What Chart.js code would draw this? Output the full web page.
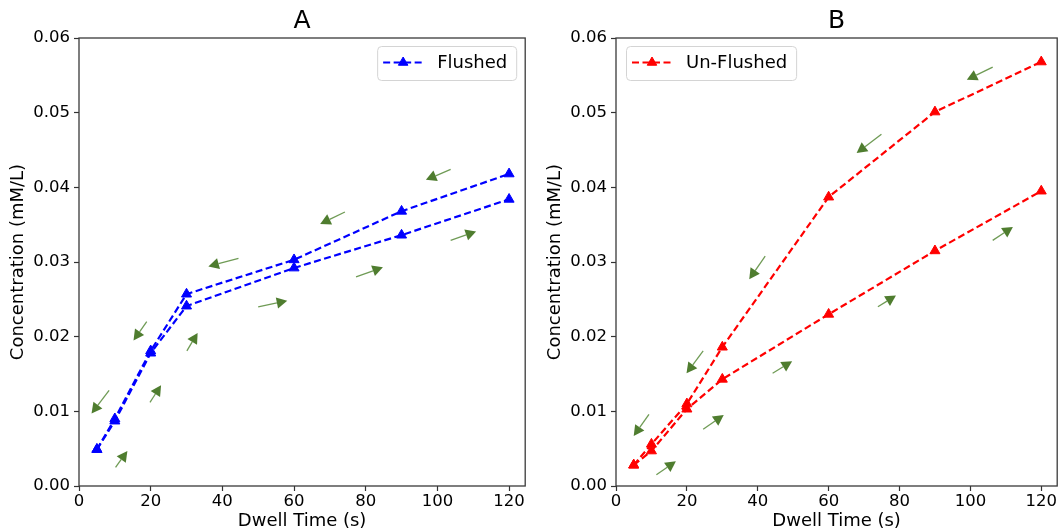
<!DOCTYPE html>
<html>
<head>
<meta charset="utf-8">
<script src="https://cdn.jsdelivr.net/npm/chart.js@4.4.1/dist/chart.umd.min.js"></script>
<style>
  html, body { margin: 0; padding: 0; background: #fff; }
  .row { display: flex; width: 1064px; height: 532px; }
  canvas { display: block; }
</style>
</head>
<body>
<div class="row">
  <canvas id="chartA" width="532" height="532"></canvas>
  <canvas id="chartB" width="532" height="532"></canvas>
</div>
<script>
// dwell times (s), sampled going up and then coming back down
const dwellTimes = [5, 10, 20, 30, 60, 90, 120];

// concentration (mM/L)
const flushedUp = [0.0049, 0.0087, 0.0178, 0.0241, 0.0292, 0.0336, 0.0384];
const flushedDown = [0.0049, 0.0090, 0.0181, 0.0257, 0.0303, 0.0368, 0.0418];
const unflushedUp = [0.0028, 0.0047, 0.0103, 0.0143, 0.0230, 0.0315, 0.0395];
const unflushedDown = [0.0028, 0.0056, 0.0110, 0.0186, 0.0387, 0.0501, 0.0568];

const yTicks = [0, 0.01, 0.02, 0.03, 0.04, 0.05, 0.06];

// direction arrows: [fromX, fromY, toX, toY] in data units
const arrowsA = [
    [8.4, 0.0128, 3.5, 0.0097],
    [10.2, 0.0025, 13.5, 0.0047],
    [18.9, 0.0220, 15.2, 0.0195],
    [19.8, 0.0112, 22.9, 0.0135],
    [30.1, 0.0181, 33.1, 0.0205],
    [44.5, 0.0305, 36.1, 0.0294],
    [50.0, 0.0240, 58.1, 0.0248],
    [74.2, 0.0367, 67.3, 0.0351],
    [77.3, 0.0280, 84.8, 0.0293],
    [103.7, 0.0424, 96.8, 0.0410],
    [103.7, 0.0329, 110.8, 0.0341]
];
const arrowsB = [
    [9.3, 0.0096, 5.0, 0.0067],
    [11.4, 0.0015, 16.9, 0.0033],
    [24.6, 0.0181, 19.9, 0.0151],
    [24.6, 0.0076, 30.4, 0.0095],
    [42.1, 0.0308, 37.6, 0.0277],
    [44.2, 0.0151, 49.7, 0.0167],
    [74.9, 0.0471, 67.9, 0.0446],
    [73.9, 0.0240, 79.0, 0.0255],
    [106.3, 0.0561, 99.0, 0.0544],
    [106.3, 0.0329, 112.0, 0.0347]
];

Chart.defaults.font.family = '"DejaVu Sans", sans-serif';
Chart.defaults.color = '#000';

const frame = {
    id: 'frame',
    afterDraw(chart) {
        const { ctx, chartArea: { left, top, width, height } } = chart;
        ctx.save();
        ctx.strokeStyle = '#3a3a3a';
        ctx.lineWidth = 1.3;
        ctx.strokeRect(left, top, width, height);
        ctx.restore();
    }
};

function arrowLayer(list) {
    return {
        id: 'arrows',
        afterDatasetsDraw(chart) {
            const { ctx, scales: { x, y } } = chart;
            ctx.save();
            ctx.strokeStyle = '#6f9b55';
            ctx.fillStyle = '#4f7d2f';
            list.forEach(([x0, y0, x1, y1]) => {
                const ax = x.getPixelForValue(x0), ay = y.getPixelForValue(y0);
                const bx = x.getPixelForValue(x1), by = y.getPixelForValue(y1);
                const ang = Math.atan2(by - ay, bx - ax);
                const hl = 10.5, hw = 5.6;
                const cx = bx - hl * Math.cos(ang), cy = by - hl * Math.sin(ang);
                ctx.lineWidth = 1.3;
                ctx.beginPath();
                ctx.moveTo(ax, ay);
                ctx.lineTo(cx, cy);
                ctx.stroke();
                ctx.beginPath();
                ctx.moveTo(bx, by);
                ctx.lineTo(cx - hw * Math.sin(ang), cy + hw * Math.cos(ang));
                ctx.lineTo(cx + hw * Math.sin(ang), cy - hw * Math.cos(ang));
                ctx.closePath();
                ctx.fill();
            });
            ctx.restore();
        }
    };
}

// matplotlib-like framed legend, one entry
function legendBox(align) {
    return {
        id: 'legendBox',
        afterDraw(chart) {
            const { ctx, chartArea } = chart;
            const ds = chart.data.datasets[0];
            ctx.save();
            ctx.font = '18px "DejaVu Sans"';
            const tw = ctx.measureText(ds.label).width;
            const w = 60 + tw + 9, h = 34;
            const bx = align === 'end' ? chartArea.right - 9 - w : chartArea.left + 10;
            const by = chartArea.top + 8;
            ctx.beginPath();
            ctx.roundRect(bx + 0.5, by + 0.5, w, h, 4);
            ctx.fillStyle = 'rgba(255,255,255,0.8)';
            ctx.fill();
            ctx.strokeStyle = '#d4d4d4';
            ctx.lineWidth = 1;
            ctx.stroke();

            const ly = by + 16.5;
            ctx.strokeStyle = ds.borderColor;
            ctx.lineWidth = ds.borderWidth;
            ctx.setLineDash(ds.borderDash);
            ctx.beginPath();
            ctx.moveTo(bx + 6, ly);
            ctx.lineTo(bx + 46, ly);
            ctx.stroke();
            ctx.setLineDash([]);
            ctx.fillStyle = ds.borderColor;
            ctx.lineWidth = 1;
            Chart.helpers.drawPoint(ctx, { pointStyle: 'triangle', radius: 5.5, borderWidth: 1, rotation: 0 }, bx + 26, ly);

            ctx.fillStyle = '#000';
            ctx.textBaseline = 'middle';
            ctx.textAlign = 'left';
            ctx.fillText(ds.label, bx + 60, by + 17.5);
            ctx.restore();
        }
    };
}

function series(label, values, color) {
    return {
        label: label,
        data: dwellTimes.map((t, i) => ({ x: t, y: values[i] })),
        showLine: true,
        borderColor: color,
        backgroundColor: color,
        borderWidth: 2.2,
        borderDash: [7, 3.5],
        pointStyle: 'triangle',
        pointRadius: 5.8,
        pointBorderWidth: 1,
        pointBackgroundColor: color,
        pointBorderColor: color,
        tension: 0
    };
}

function makeChart(id, title, datasets, yWidth, titlePad, rightPad, legendAlign, arrows) {
    return new Chart(document.getElementById(id), {
        type: 'scatter',
        data: { datasets: datasets },
        options: {
            responsive: false,
            animation: false,
            layout: { padding: { left: 0, right: rightPad, top: 0, bottom: 0 } },
            plugins: {
                legend: { display: false },
                tooltip: { enabled: false },
                title: {
                    display: true,
                    text: title,
                    fullSize: false,
                    color: '#000',
                    font: { size: 25, weight: 'normal' },
                    padding: { top: 6, bottom: 2 }
                }
            },
            scales: {
                x: {
                    type: 'linear',
                    min: 0,
                    max: 124.5,
                    border: { display: false },
                    grid: { drawOnChartArea: false, tickLength: 5, tickColor: '#333', tickWidth: 1.2 },
                    ticks: { stepSize: 20, includeBounds: false, padding: 1, maxRotation: 0, color: '#000', font: { size: 16.5 } },
                    title: { display: true, text: 'Dwell Time (s)', color: '#000', font: { size: 18 }, padding: { top: 0, bottom: 0 } },
                    afterFit(s) { s.height = 46; }
                },
                y: {
                    type: 'linear',
                    min: 0,
                    max: 0.06,
                    border: { display: false },
                    grid: { drawOnChartArea: false, tickLength: 5, tickColor: '#333', tickWidth: 1.2 },
                    afterBuildTicks(s) { s.ticks = yTicks.map(v => ({ value: v })); },
                    ticks: {
                        padding: 4,
                        color: '#000',
                        font: { size: 16.5 },
                        callback: v => v.toFixed(2)
                    },
                    title: { display: true, text: 'Concentration (mM/L)', color: '#000', font: { size: 18 }, padding: { top: titlePad, bottom: 0 } },
                    afterFit(s) { s.width = yWidth; }
                }
            }
        },
        plugins: [arrowLayer(arrows), frame, legendBox(legendAlign)]
    });
}

makeChart('chartA', 'A', [
    series('Flushed', flushedUp, '#0000ff'),
    series('Flushed', flushedDown, '#0000ff')
], 79, 8, 6, 'end', arrowsA);

makeChart('chartB', 'B', [
    series('Un-Flushed', unflushedUp, '#ff0000'),
    series('Un-Flushed', unflushedDown, '#ff0000')
], 84, 12.5, 2, 'start', arrowsB);
</script>
</body>
</html>
